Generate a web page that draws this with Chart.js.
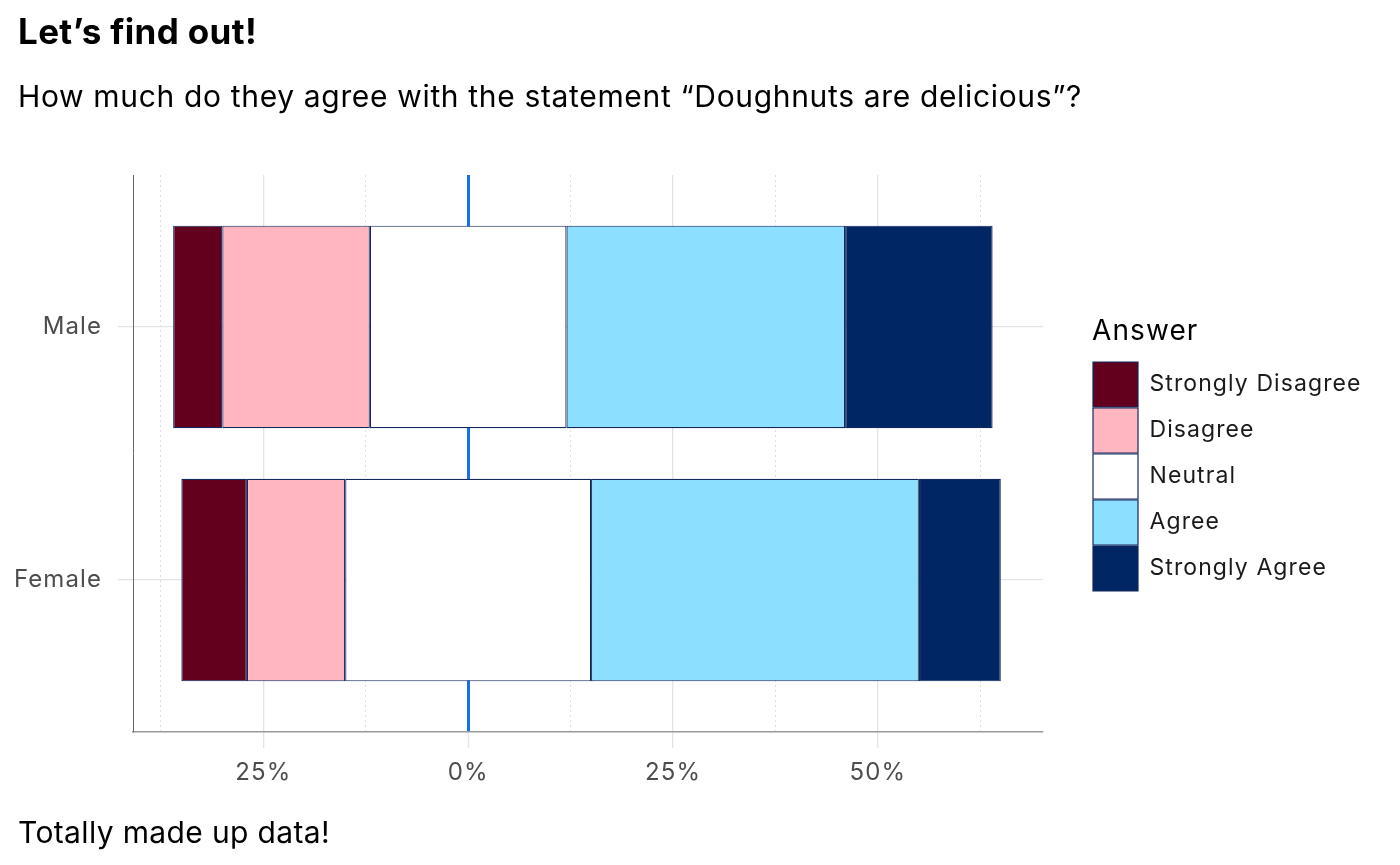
<!DOCTYPE html>
<html>
<head>
<meta charset="utf-8">
<script src="https://cdn.jsdelivr.net/npm/chart.js@4.4.1/dist/chart.umd.min.js"></script>
<style>
  html, body { margin: 0; padding: 0; background: #ffffff; }
  #wrap { position: relative; width: 1400px; height: 865px; overflow: hidden; }
  #c { position: absolute; left: 0; top: 0; }
  .txt { position: absolute; left: 18px; font-family: Inter, Roboto, sans-serif; color: #000; white-space: nowrap; line-height: 1; }
  #title { top: 14px; font-size: 35px; font-weight: 700; }
  #subtitle { top: 81px; font-size: 30px; }
  #caption { top: 817px; font-size: 30px; }
</style>
</head>
<body>
<div id="wrap">
  <canvas id="c" width="1400" height="865" style="width:1400px;height:865px"></canvas>
  <div class="txt" id="title">Let’s find out!</div>
  <div class="txt" id="subtitle">How much do they agree with the statement “Doughnuts are delicious”?</div>
  <div class="txt" id="caption">Totally made up data!</div>
</div>
<script>
// ---- data ----
const groups = ['Male', 'Female'];
const answers = ['Strongly Disagree', 'Disagree', 'Neutral', 'Agree', 'Strongly Agree'];
const stronglyDisagree = [6, 8];
const disagree = [18, 12];
const neutral = [24, 30];
const agree = [34, 40];
const stronglyAgree = [18, 10];
const majorTicks = [-25, 0, 25, 50];
const minorTicks = [-37.5, -12.5, 12.5, 37.5, 62.5];
const answerColors = ['#62001D', '#FFB6C1', '#FFFFFF', '#8CDFFF', '#002663'];

// ---- floating segments, neutral split around zero ----
function segments(gi) {
  const sd = stronglyDisagree[gi], d = disagree[gi], n = neutral[gi], a = agree[gi], sa = stronglyAgree[gi];
  const s0 = -(sd + d + n / 2);
  return [
    [s0, s0 + sd],
    [s0 + sd, -n / 2],
    [-n / 2, n / 2],
    [n / 2, n / 2 + a],
    [n / 2 + a, n / 2 + a + sa]
  ];
}
const segs = groups.map((g, gi) => segments(gi));

const datasets = answers.map((ans, ai) => ({
  label: ans,
  data: groups.map((g, gi) => ({ x: segs[gi][ai], y: gi + 1 })),
  backgroundColor: answerColors[ai],
  borderColor: '#12285E',
  borderWidth: 1.2,
  borderSkipped: false,
  grouped: false,
  categoryPercentage: 1,
  barPercentage: 0.8
}));

const FONT = 'Inter, Roboto, sans-serif';
const legendFontSize = 23;

// text width matching (letter spacing) for the substitute font
const mctx = document.createElement('canvas').getContext('2d');
function spacingFor(text, font, target) {
  mctx.font = font;
  if ('letterSpacing' in mctx) mctx.letterSpacing = '0px';
  const w = mctx.measureText(text).width;
  return Math.max(-2, Math.min(3, (target - w) / text.length));
}
const LS = spacingFor('Strongly Disagree', legendFontSize + 'px ' + FONT, 212);
[['title', '700 35px ' + FONT, 239], ['subtitle', '30px ' + FONT, 1064], ['caption', '30px ' + FONT, 312]]
  .forEach(([id, f, t]) => {
    const el = document.getElementById(id);
    el.style.letterSpacing = spacingFor(el.textContent, f, t).toFixed(2) + 'px';
  });

const spacingPlugin = {
  id: 'spacing',
  beforeUpdate(chart) { chart.ctx.letterSpacing = LS + 'px'; },
  beforeLayout(chart) { chart.ctx.letterSpacing = LS + 'px'; },
  beforeDraw(chart) { chart.ctx.letterSpacing = LS + 'px'; }
};

const chart = new Chart(document.getElementById('c'), {
  type: 'bar',
  data: { datasets },
  plugins: [spacingPlugin],
  options: {
    indexAxis: 'y',
    responsive: false,
    animation: false,
    devicePixelRatio: 1,
    layout: { padding: { top: 175, left: 0, right: 40, bottom: 865 - 732 - 60 } },
    plugins: {
      tooltip: { enabled: false },
      legend: {
        position: 'right',
        align: 'center',
        fullSize: false,
        maxWidth: 500,
        title: {
          display: true,
          text: 'Answer',
          position: 'start',
          color: '#000',
          font: { family: FONT, size: 28 },
          padding: { top: 3, bottom: 9.4 }
        },
        labels: {
          boxWidth: 45,
          boxHeight: 45,
          padding: 1,
          color: '#1a1a1a',
          font: { family: FONT, size: legendFontSize }
        }
      }
    },
    scales: {
      x: {
        type: 'linear',
        position: 'bottom',
        min: -40.9,
        max: 70.15,
        afterBuildTicks: s => { s.ticks = majorTicks.map(v => ({ value: v })); },
        ticks: {
          callback: v => Math.abs(v) + '%',
          color: '#4d4d4d',
          font: { family: FONT, size: 24 },
          padding: 10,
          autoSkip: false,
          maxRotation: 0
        },
        grid: {
          color: c => (c.tick && c.tick.value === 0) ? '#1570EF' : '#e2e4e8',
          lineWidth: c => (c.tick && c.tick.value === 0) ? 3 : 1.3,
          tickColor: '#e2e4e8',
          tickLength: 16,
          tickWidth: 1.3
        },
        border: { display: true, color: '#9a9a9a', width: 1.5 },
        afterFit: s => { s.height = 60; }
      },
      xMinor: {
        type: 'linear',
        position: 'bottom',
        min: -40.9,
        max: 70.15,
        afterBuildTicks: s => { s.ticks = minorTicks.map(v => ({ value: v })); },
        ticks: { display: false },
        grid: { color: '#dedede', lineWidth: 1, drawTicks: false },
        border: { display: false, dash: [2, 3] },
        afterFit: s => { s.height = 0; }
      },
      y: {
        type: 'linear',
        position: 'left',
        reverse: true,
        offset: false,
        min: 0.4,
        max: 2.6,
        afterBuildTicks: s => { s.ticks = groups.map((g, i) => ({ value: i + 1 })); },
        ticks: {
          callback: v => groups[Math.round(v) - 1],
          color: '#4d4d4d',
          font: { family: FONT, size: 24 },
          padding: 16,
          autoSkip: false
        },
        grid: { offset: false, color: '#e2e4e8', tickColor: '#e2e4e8', tickLength: 15, lineWidth: 1.3 },
        border: { display: true, color: '#666666', width: 1 },
        afterFit: s => { s.width = 133; }
      },
      gap: {
        type: 'linear',
        position: 'right',
        display: true,
        ticks: { display: false },
        grid: { display: false, drawTicks: false },
        border: { display: false },
        afterFit: s => { s.width = 49; }
      }
    }
  }
});
// place the legend so that its left edge sits where the reference's does
chart.options.layout.padding.right = Math.max(0, 1400 - 1092 - chart.legend.width);
chart.update();
</script>
</body>
</html>
